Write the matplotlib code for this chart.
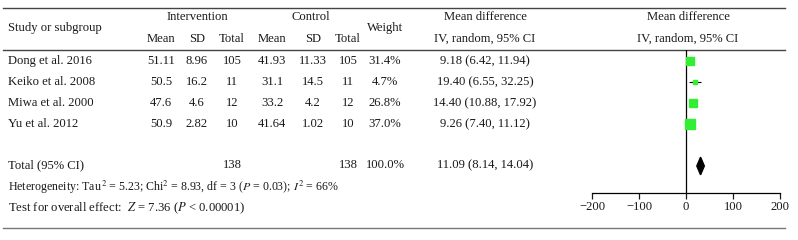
import numpy as np
import matplotlib
matplotlib.use('Agg')
from matplotlib import pyplot as plt

plt.rcParams['font.family'] = ['Liberation Serif', 'DejaVu Serif']
plt.rcParams['mathtext.fontset'] = 'stix'

studies = ['Dong et al. 2016', 'Keiko et al. 2008', 'Miwa et al. 2000', 'Yu et al. 2012']
int_mean = ['51.11', '50.5', '47.6', '50.9']
int_sd = ['8.96', '16.2', '4.6', '2.82']
int_n = [105, 11, 12, 10]
ctl_mean = ['41.93', '31.1', '33.2', '41.64']
ctl_sd = ['11.33', '14.5', '4.2', '1.02']
ctl_n = [105, 11, 12, 10]
weight = [31.4, 4.7, 26.8, 37.0]
md = [9.18, 19.40, 14.40, 9.26]
ci_lo = [6.42, 6.55, 10.88, 7.40]
ci_hi = [11.94, 32.25, 17.92, 11.12]
total_md, total_lo, total_hi = 11.09, 8.14, 14.04
# diamond as drawn in the picture (lower, centre, upper)
diamond_x = [23, 31, 39]
xticks = [-200, -100, 0, 100, 200]

fig = plt.figure(figsize=(7.98, 2.4), dpi=100)
bg = fig.add_axes([0, 0, 1, 1])
bg.set_xlim(0, 798)
bg.set_ylim(240, 0)
bg.axis('off')

fs = 9.1
def t(x, y, s, ha='center', size=fs):
    bg.text(x, y, s, ha=ha, va='center', fontsize=size, color='#1a1a1a')

# rules
bg.plot([3, 785], [8, 8], color='#444444', lw=1.0)
bg.plot([3, 785], [50, 50], color='#444444', lw=1.0)
bg.plot([3, 785], [228, 228], color='#777777', lw=1.0)

# header
t(8, 28, 'Study or subgroup', ha='left')
t(197, 17, 'Intervention')
t(311, 17, 'Control')
t(385, 28, 'Weight')
t(485, 17, 'Mean difference')
t(485, 39, 'IV, random, 95% CI')
t(688, 17, 'Mean difference')
t(688, 39, 'IV, random, 95% CI')
for x, s in zip([161, 197, 232, 272, 313, 348], ['Mean', 'SD', 'Total', 'Mean', 'SD', 'Total']):
    t(x, 39, s)

row_y = [61, 82, 103, 124]
for i, y in enumerate(row_y):
    t(8, y, studies[i], ha='left')
    t(161, y, int_mean[i])
    t(197, y, int_sd[i])
    t(232, y, str(int_n[i]))
    t(272, y, ctl_mean[i])
    t(313, y, ctl_sd[i])
    t(348, y, str(ctl_n[i]))
    t(385, y, '%.1f%%' % weight[i])
    t(485, y, '%.2f (%.2f, %.2f)' % (md[i], ci_lo[i], ci_hi[i]))

t(8, 165, 'Total (95% CI)', ha='left')
t(232, 165, str(sum(int_n)))
t(348, 165, str(sum(ctl_n)))
t(385, 165, '100.0%')
t(485, 165, '%.2f (%.2f, %.2f)' % (total_md, total_lo, total_hi))
t(8, 187, 'Heterogeneity: Tau$^{\\,2}$ = 5.23; Chi$^2$ = 8.93, df = 3 ($P$ = 0.03); $I^2$ = 66%',
  ha='left', size=8.6)
t(8, 208, 'Test for overall effect:  $Z$ = 7.36 ($P$ < 0.00001)', ha='left')

# forest plot axes: x -200..200 spans px 592..780, y rows
x0, x1 = 592, 780
ytop, ybot = 50, 193
ax = fig.add_axes([x0 / 798, 1 - ybot / 240, (x1 - x0) / 798, (ybot - ytop) / 240])
ax.patch.set_alpha(0)
rows = np.arange(len(studies))
total_row = 5
ax.set_xlim(-200, 200)
ax.set_ylim((ybot - 61) / 21.0, (ytop - 61) / 21.0)
ax.hlines(rows, ci_lo, ci_hi, color='black', lw=0.8, zorder=2)
for i in rows:
    ax.plot(md[i], i, 's', color='#33ee33', mec='#33ee33',
            ms=np.sqrt(weight[i]) * 1.1, zorder=3)
ax.fill([diamond_x[0], diamond_x[1], diamond_x[2], diamond_x[1]],
        [total_row, total_row - 0.42, total_row, total_row + 0.42],
        color='black', zorder=3)
ax.axvline(0, color='black', lw=0.9)
for s in ['top', 'right', 'left']:
    ax.spines[s].set_visible(False)
ax.spines['bottom'].set_linewidth(0.9)
ax.set_yticks([])
ax.set_xticks(xticks)
ax.set_xticklabels([str(v).replace('-', '\u2212') for v in xticks], fontsize=fs)
ax.tick_params(axis='x', direction='out', length=4, width=0.9, pad=2, colors='#1a1a1a')

fig.savefig('out.png', dpi=100)
